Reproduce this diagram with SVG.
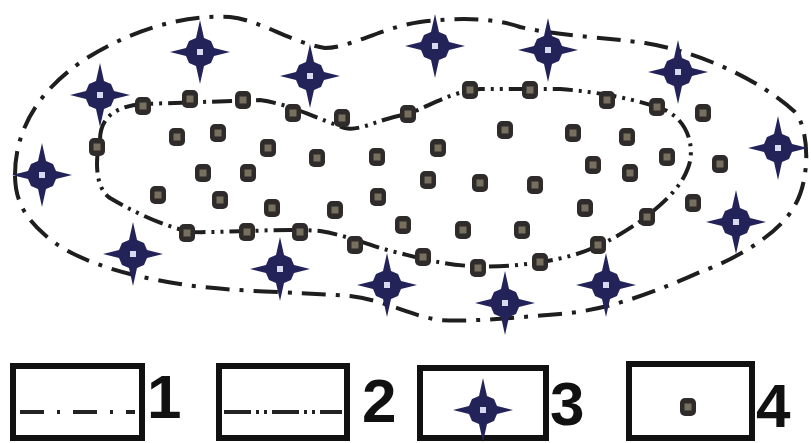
<svg xmlns="http://www.w3.org/2000/svg" xmlns:xlink="http://www.w3.org/1999/xlink" width="811" height="443" viewBox="0 0 811 443">
<style>
.outer{fill:none;stroke:#1e1e1e;stroke-width:4;stroke-dasharray:24 10 4 10;stroke-linecap:butt}
.inner{fill:none;stroke:#1e1e1e;stroke-width:4;stroke-dasharray:20 6 3 6 3 6}
.box{fill:#fff;stroke:#111;stroke-width:6}
.num{font-family:"Liberation Sans",Arial,sans-serif;font-weight:bold;font-size:62px;fill:#111}
.l1{stroke:#222;stroke-width:4;stroke-dasharray:24 13 3 13;fill:none}
.l2{stroke:#222;stroke-width:4;stroke-dasharray:27 5 3 5 3 5;fill:none}
</style>
<defs>
<g id="star">
<path d="M0,-32 L4,-14 L11,-11 L14,-4 L30,0 L14,4 L11,11 L4,14 L0,32 L-4,14 L-11,11 L-14,4 L-30,0 L-14,-4 L-11,-11 L-4,-14 Z" fill="#23235a"/>
<rect x="-3" y="-3" width="6" height="6" fill="#d8d8f0"/>
</g>
<g id="dot">
<rect x="-8" y="-9" width="16" height="18" rx="5" fill="#2e2b2a"/>
<rect x="-3.5" y="-3.5" width="7" height="7" fill="#77705f"/>
</g>
</defs>
<rect width="811" height="443" fill="#fff"/>
<g id="boundaries">
<path class="outer" d="M15,175 C15,120 50,75 110,45 C150,25 190,15 230,17 C260,20 290,42 325,48 C350,48 380,28 420,22 C460,17 495,18 520,27 C560,36 610,38 645,43 C700,52 760,80 795,112 C810,130 810,180 795,205 C780,235 730,262 700,272 C660,290 610,310 560,314 C510,318 470,322 440,320 C410,316 385,300 350,296 C300,292 230,292 180,284 C120,275 70,258 45,235 C25,218 15,200 15,175 Z"/>
<path class="inner" d="M100,140 C100,118 115,106 143,104 L260,100 C290,104 320,120 345,128 C360,132 380,118 408,114 C430,106 450,92 480,89 L560,89 C600,92 640,100 665,110 C690,122 695,150 688,168 C680,190 660,205 645,218 C625,232 600,248 570,256 C540,264 500,268 470,266 C440,264 420,258 395,252 C370,246 350,236 320,231 C280,228 230,233 190,232 C160,225 130,210 110,198 C95,188 95,160 100,140 Z"/>
</g>
<g id="dots">
<use href="#dot" x="143" y="106"/><use href="#dot" x="190" y="99"/><use href="#dot" x="243" y="100"/><use href="#dot" x="293" y="113"/><use href="#dot" x="342" y="118"/><use href="#dot" x="408" y="114"/><use href="#dot" x="470" y="90"/><use href="#dot" x="530" y="90"/><use href="#dot" x="607" y="100"/><use href="#dot" x="657" y="107"/><use href="#dot" x="703" y="113"/>
<use href="#dot" x="97" y="147"/><use href="#dot" x="177" y="137"/><use href="#dot" x="218" y="133"/><use href="#dot" x="268" y="148"/><use href="#dot" x="317" y="158"/><use href="#dot" x="377" y="157"/><use href="#dot" x="438" y="148"/><use href="#dot" x="505" y="130"/><use href="#dot" x="573" y="133"/><use href="#dot" x="627" y="137"/><use href="#dot" x="667" y="157"/><use href="#dot" x="720" y="164"/>
<use href="#dot" x="203" y="173"/><use href="#dot" x="248" y="173"/><use href="#dot" x="428" y="180"/><use href="#dot" x="480" y="183"/><use href="#dot" x="535" y="185"/><use href="#dot" x="593" y="165"/><use href="#dot" x="630" y="173"/>
<use href="#dot" x="158" y="195"/><use href="#dot" x="220" y="200"/><use href="#dot" x="272" y="208"/><use href="#dot" x="335" y="210"/><use href="#dot" x="378" y="197"/><use href="#dot" x="585" y="208"/><use href="#dot" x="693" y="203"/>
<use href="#dot" x="187" y="233"/><use href="#dot" x="247" y="232"/><use href="#dot" x="300" y="232"/><use href="#dot" x="355" y="245"/><use href="#dot" x="403" y="225"/><use href="#dot" x="463" y="230"/><use href="#dot" x="522" y="230"/><use href="#dot" x="423" y="257"/><use href="#dot" x="478" y="268"/><use href="#dot" x="540" y="262"/><use href="#dot" x="598" y="245"/><use href="#dot" x="647" y="217"/>
</g>
<g id="stars">
<use href="#star" x="100" y="95"/><use href="#star" x="200" y="52"/><use href="#star" x="310" y="76"/><use href="#star" x="435" y="46"/><use href="#star" x="548" y="50"/><use href="#star" x="678" y="72"/><use href="#star" x="778" y="148"/><use href="#star" x="42" y="175"/><use href="#star" x="133" y="254"/><use href="#star" x="280" y="269"/><use href="#star" x="387" y="285"/><use href="#star" x="505" y="303"/><use href="#star" x="606" y="285"/><use href="#star" x="736" y="222"/>
</g>
<g id="legend1">
<rect class="box" x="13" y="366" width="129" height="72"/>
<line class="l1" x1="20" y1="412" x2="135" y2="412"/>
<text class="num" x="147" y="418">1</text>
</g>
<g id="legend2">
<rect class="box" x="219" y="366" width="128" height="72"/>
<line class="l2" x1="224" y1="412" x2="342" y2="412"/>
<text class="num" x="362" y="422">2</text>
</g>
<g id="legend3">
<rect class="box" x="420" y="368" width="126" height="70"/>
<use href="#star" x="483" y="410"/>
<text class="num" x="550" y="425">3</text>
</g>
<g id="legend4">
<rect class="box" x="629" y="364" width="123" height="74"/>
<use href="#dot" x="688" y="407"/>
<text class="num" x="756" y="427">4</text>
</g>
</svg>
